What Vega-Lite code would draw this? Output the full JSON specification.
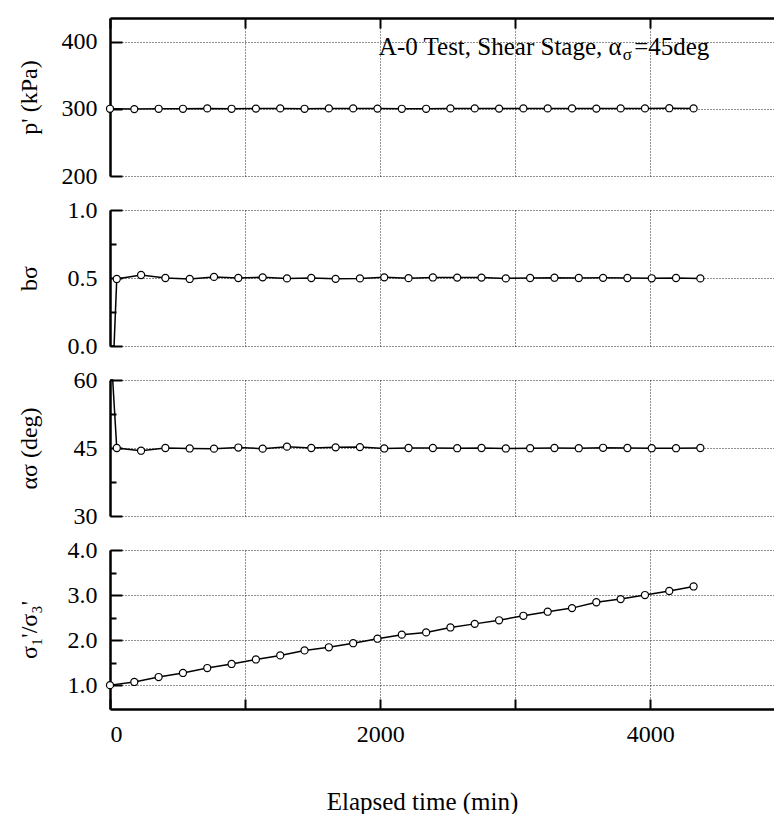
{
  "$schema": "https://vega.github.io/schema/vega-lite/v6.json",
  "background": "white",
  "padding": {"left": 16, "top": 17, "right": 0, "bottom": 0},
  "spacing": 34,
  "bounds": "flush",
  "config": {
    "font": "Liberation Serif",
    "view": {"stroke": null},
    "axis": {
      "labelFont": "Liberation Serif", "titleFont": "Liberation Serif",
      "labelFontSize": 24, "titleFontSize": 24, "titleFontWeight": "normal",
      "labelColor": "black", "titleColor": "black",
      "domainColor": "black", "domainWidth": 2.5,
      "tickColor": "black", "tickWidth": 2,
      "gridColor": "#222", "gridDash": [1, 2], "gridWidth": 1, "gridOpacity": 1
    }
  },
  "datasets": {
    "p": [
      {"t": 0, "v": 300}, {"t": 180, "v": 299.5}, {"t": 360, "v": 300}, {"t": 540, "v": 300}, {"t": 720, "v": 300.5},
      {"t": 900, "v": 300}, {"t": 1080, "v": 300.3}, {"t": 1260, "v": 300.5}, {"t": 1440, "v": 300}, {"t": 1620, "v": 300.5},
      {"t": 1800, "v": 300.5}, {"t": 1980, "v": 300.3}, {"t": 2160, "v": 300}, {"t": 2340, "v": 300}, {"t": 2520, "v": 300.5},
      {"t": 2700, "v": 300.5}, {"t": 2880, "v": 300.3}, {"t": 3060, "v": 300.5}, {"t": 3240, "v": 300.5}, {"t": 3420, "v": 300.5},
      {"t": 3600, "v": 300.3}, {"t": 3780, "v": 300.5}, {"t": 3960, "v": 300.5}, {"t": 4140, "v": 300.8}, {"t": 4320, "v": 300.5}
    ],
    "b": [
      {"t": 0, "v": 0}, {"t": 30, "v": 0},
      {"t": 50, "v": 0.493}, {"t": 230, "v": 0.522}, {"t": 410, "v": 0.5}, {"t": 590, "v": 0.493}, {"t": 770, "v": 0.508},
      {"t": 950, "v": 0.5}, {"t": 1130, "v": 0.505}, {"t": 1310, "v": 0.497}, {"t": 1490, "v": 0.5}, {"t": 1670, "v": 0.494},
      {"t": 1850, "v": 0.497}, {"t": 2030, "v": 0.505}, {"t": 2210, "v": 0.499}, {"t": 2390, "v": 0.504}, {"t": 2570, "v": 0.503},
      {"t": 2750, "v": 0.503}, {"t": 2930, "v": 0.497}, {"t": 3110, "v": 0.5}, {"t": 3290, "v": 0.502}, {"t": 3470, "v": 0.5},
      {"t": 3650, "v": 0.501}, {"t": 3830, "v": 0.5}, {"t": 4010, "v": 0.498}, {"t": 4190, "v": 0.5}, {"t": 4370, "v": 0.497}
    ],
    "a": [
      {"t": 0, "v": 60}, {"t": 20, "v": 60},
      {"t": 50, "v": 45.0}, {"t": 230, "v": 44.4}, {"t": 410, "v": 45.0}, {"t": 590, "v": 44.9}, {"t": 770, "v": 44.85},
      {"t": 950, "v": 45.1}, {"t": 1130, "v": 44.85}, {"t": 1310, "v": 45.3}, {"t": 1490, "v": 45.0}, {"t": 1670, "v": 45.15},
      {"t": 1850, "v": 45.2}, {"t": 2030, "v": 44.9}, {"t": 2210, "v": 45.0}, {"t": 2390, "v": 45.0}, {"t": 2570, "v": 44.95},
      {"t": 2750, "v": 45.0}, {"t": 2930, "v": 44.9}, {"t": 3110, "v": 44.95}, {"t": 3290, "v": 45.0}, {"t": 3470, "v": 44.95},
      {"t": 3650, "v": 45.05}, {"t": 3830, "v": 45.0}, {"t": 4010, "v": 44.95}, {"t": 4190, "v": 44.95}, {"t": 4370, "v": 45.0}
    ],
    "r": [
      {"t": 0, "v": 1.0}, {"t": 180, "v": 1.07}, {"t": 360, "v": 1.18}, {"t": 540, "v": 1.27}, {"t": 720, "v": 1.38},
      {"t": 900, "v": 1.47}, {"t": 1080, "v": 1.57}, {"t": 1260, "v": 1.66}, {"t": 1440, "v": 1.77}, {"t": 1620, "v": 1.84},
      {"t": 1800, "v": 1.93}, {"t": 1980, "v": 2.03}, {"t": 2160, "v": 2.12}, {"t": 2340, "v": 2.17}, {"t": 2520, "v": 2.28},
      {"t": 2700, "v": 2.36}, {"t": 2880, "v": 2.44}, {"t": 3060, "v": 2.54}, {"t": 3240, "v": 2.63}, {"t": 3420, "v": 2.71},
      {"t": 3600, "v": 2.84}, {"t": 3780, "v": 2.91}, {"t": 3960, "v": 3.0}, {"t": 4140, "v": 3.09}, {"t": 4320, "v": 3.19}
    ]
  },
  "vconcat": [
    {
      "width": 666, "height": 158,
      "layer": [
        {"data": {"name": "p"}, "mark": {"type": "line", "color": "black", "strokeWidth": 1.5},
          "encoding": {
            "x": {"field": "t", "type": "quantitative", "scale": {"domain": [0, 4930], "nice": false, "zero": false},
              "axis": {"orient": "top", "values": [0, 1000, 2000, 3000, 4000], "labels": false, "title": null, "tickSize": -10, "grid": true}},
            "y": {"field": "v", "type": "quantitative", "scale": {"domain": [200, 435], "nice": false, "zero": false},
              "axis": {"values": [200, 250, 300, 350, 400], "labelExpr": "datum.value % 100 == 0 ? datum.label : ''",
                "tickSize": {"condition": {"test": "datum.value % 100 == 0", "value": -12}, "value": -6},
                "gridOpacity": {"condition": {"test": "datum.value % 100 == 0", "value": 1}, "value": 0},
                "labelPadding": 25, "title": "p' (kPa)", "titleX": -81, "titleBaseline": "middle"}}
          }},
        {"data": {"name": "p"}, "mark": {"type": "point", "shape": "circle", "filled": true, "fill": "white", "stroke": "black", "strokeWidth": 1.2, "size": 50, "opacity": 1},
          "encoding": {"x": {"field": "t", "type": "quantitative"}, "y": {"field": "v", "type": "quantitative"}}},
        {"data": {"values": [{"label": "A-0 Test, Shear Stage, α"}]}, "mark": {"type": "text", "align": "left", "baseline": "alphabetic", "fontSize": 25, "color": "black", "font": "Liberation Serif"},
          "encoding": {"x": {"datum": 1990, "type": "quantitative"}, "y": {"datum": 380, "type": "quantitative"}, "text": {"field": "label", "type": "nominal"}}},
        {"data": {"values": [{"label": "σ"}]}, "mark": {"type": "text", "align": "left", "baseline": "alphabetic", "fontSize": 17, "color": "black", "font": "Liberation Serif"},
          "encoding": {"x": {"datum": 3795, "type": "quantitative"}, "y": {"datum": 373, "type": "quantitative"}, "text": {"field": "label", "type": "nominal"}}},
        {"data": {"values": [{"label": "=45deg"}]}, "mark": {"type": "text", "align": "left", "baseline": "alphabetic", "fontSize": 25, "color": "black", "font": "Liberation Serif"},
          "encoding": {"x": {"datum": 3880, "type": "quantitative"}, "y": {"datum": 380, "type": "quantitative"}, "text": {"field": "label", "type": "nominal"}}}
      ]
    },
    {
      "width": 666, "height": 136,
      "encoding": {
        "x": {"field": "t", "type": "quantitative", "scale": {"domain": [0, 4930], "nice": false, "zero": false},
          "axis": {"orient": "bottom", "values": [0, 1000, 2000, 3000, 4000], "labels": false, "ticks": false, "domain": false, "title": null, "grid": true}},
        "y": {"field": "v", "type": "quantitative", "scale": {"domain": [0, 1], "nice": false, "zero": false},
          "axis": {"values": [0, 0.25, 0.5, 0.75, 1], "format": ".1f", "labelExpr": "datum.value % 0.5 == 0 ? datum.label : ''",
            "tickSize": {"condition": {"test": "datum.value % 0.5 == 0", "value": -12}, "value": -6},
            "gridOpacity": {"condition": {"test": "datum.value % 0.5 == 0", "value": 1}, "value": 0},
            "labelPadding": 25, "title": "bσ", "titleX": -81, "titleBaseline": "middle"}}
      },
      "layer": [
        {"data": {"name": "b"}, "mark": {"type": "line", "color": "black", "strokeWidth": 1.5}},
        {"data": {"name": "b"}, "transform": [{"filter": "datum.t >= 50"}], "mark": {"type": "point", "shape": "circle", "filled": true, "fill": "white", "stroke": "black", "strokeWidth": 1.2, "size": 50, "opacity": 1}}
      ]
    },
    {
      "width": 666, "height": 136,
      "encoding": {
        "x": {"field": "t", "type": "quantitative", "scale": {"domain": [0, 4930], "nice": false, "zero": false},
          "axis": {"orient": "bottom", "values": [0, 1000, 2000, 3000, 4000], "labels": false, "ticks": false, "domain": false, "title": null, "grid": true}},
        "y": {"field": "v", "type": "quantitative", "scale": {"domain": [30, 60], "nice": false, "zero": false},
          "axis": {"values": [30, 37.5, 45, 52.5, 60], "labelExpr": "datum.value % 15 == 0 ? datum.label : ''",
            "tickSize": {"condition": {"test": "datum.value % 15 == 0", "value": -12}, "value": -6},
            "gridOpacity": {"condition": {"test": "datum.value % 15 == 0", "value": 1}, "value": 0},
            "labelPadding": 25, "title": "ασ (deg)", "titleX": -81, "titleBaseline": "middle"}}
      },
      "layer": [
        {"data": {"name": "a"}, "mark": {"type": "line", "color": "black", "strokeWidth": 1.5}},
        {"data": {"name": "a"}, "transform": [{"filter": "datum.t >= 50"}], "mark": {"type": "point", "shape": "circle", "filled": true, "fill": "white", "stroke": "black", "strokeWidth": 1.2, "size": 50, "opacity": 1}}
      ]
    },
    {
      "width": 666, "height": 159,
      "encoding": {
        "x": {"field": "t", "type": "quantitative", "scale": {"domain": [0, 4930], "nice": false, "zero": false},
          "axis": {"orient": "bottom", "values": [0, 1000, 2000, 3000, 4000], "format": "d", "labelExpr": "datum.value % 2000 == 0 ? datum.label : ''",
            "tickSize": -10, "labelPadding": 23, "grid": true,
            "title": "Elapsed time (min)", "titleX": 312, "titleY": 92, "titleBaseline": "middle", "titleFontSize": 25}},
        "y": {"field": "v", "type": "quantitative", "scale": {"domain": [0.47, 4], "nice": false, "zero": false},
          "axis": {"values": [1, 1.5, 2, 2.5, 3, 3.5, 4], "format": ".1f", "labelExpr": "datum.value % 1 == 0 ? datum.label : ''",
            "tickSize": {"condition": {"test": "datum.value % 1 == 0", "value": -12}, "value": -6},
            "gridOpacity": {"condition": {"test": "datum.value % 1 == 0", "value": 1}, "value": 0},
            "labelPadding": 25, "title": "σ₁'/σ₃'", "titleX": -81, "titleBaseline": "middle"}}
      },
      "layer": [
        {"data": {"name": "r"}, "mark": {"type": "line", "color": "black", "strokeWidth": 1.5}},
        {"data": {"name": "r"}, "mark": {"type": "point", "shape": "circle", "filled": true, "fill": "white", "stroke": "black", "strokeWidth": 1.2, "size": 50, "opacity": 1}}
      ]
    }
  ]
}
